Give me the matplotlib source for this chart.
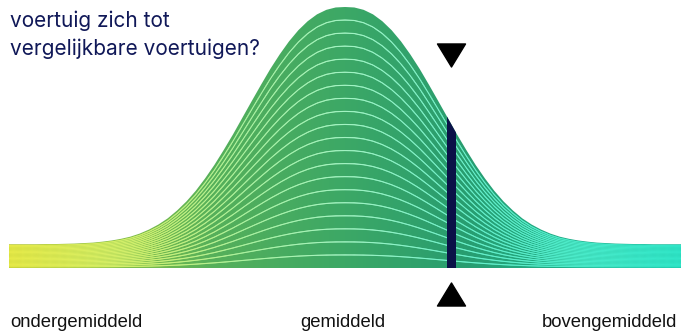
import numpy as np
import matplotlib
matplotlib.use("Agg")
import matplotlib.pyplot as plt
from matplotlib.colors import LinearSegmentedColormap
from matplotlib.collections import LineCollection
from matplotlib.patches import Polygon, Rectangle
from matplotlib.path import Path

# ---- data ----
x_vals = [round(-3.6 + 0.1 * i, 1) for i in range(73)]
curve_right = [1.100, 1.098, 1.088, 1.069, 1.040, 1.002, 0.955, 0.900, 0.839, 0.772,
               0.703, 0.633, 0.563, 0.497, 0.434, 0.377, 0.325, 0.280, 0.242, 0.209,
               0.183, 0.162, 0.145, 0.132, 0.123, 0.116, 0.111, 0.107, 0.105, 0.103,
               0.102, 0.101, 0.101, 0.100, 0.100, 0.100, 0.100]
curve_vals = curve_right[:0:-1] + curve_right
n_bands = 20
marker_value = 1.14
title_lines = ["voertuig zich tot", "vergelijkbare voertuigen?"]
axis_labels = ["ondergemiddeld", "gemiddeld", "bovengemiddeld"]

W, H = 690, 331
fig = plt.figure(figsize=(W / 100, H / 100), dpi=100)
fig.patch.set_facecolor("white")
ax = fig.add_axes([9 / W, 63 / H, 672 / W, 261 / H])
xmin, xmax = x_vals[0], x_vals[-1]
ax.set_xlim(xmin, xmax)
ax.set_ylim(0, 1.1)
ax.axis("off")

x = np.array(x_vals)
y = np.array(curve_vals)

fill_cmap = LinearSegmentedColormap.from_list(
    "fill", [(0.0, "#b2c430"), (0.15, "#8ac046"), (0.3, "#56b05a"),
             (0.5, "#3ca866"), (0.68, "#289d70"), (0.85, "#1fb08c"), (1.0, "#18bc9c")])
line_cmap = LinearSegmentedColormap.from_list(
    "lines", [(0.0, "#e6ea48"), (0.2, "#d0f070"), (0.35, "#acf2a0"),
              (0.5, "#a4f4c4"), (0.7, "#66f0cc"), (1.0, "#30e6c8")])

verts = [(xmin, 0)] + list(zip(x, y)) + [(xmax, 0)]
poly = Polygon(verts, closed=True, facecolor="none", edgecolor="none")
ax.add_patch(poly)

grad = np.linspace(0, 1, 512).reshape(1, -1)
im = ax.imshow(grad, cmap=fill_cmap, extent=(xmin, xmax, 0, 1.1),
               aspect="auto", interpolation="bilinear", zorder=1)
im.set_clip_path(poly)

xf = np.linspace(xmin, xmax, 600)
for k in range(1, n_bands):
    yk = np.interp(xf, x, y) * k / n_bands
    pts = np.column_stack([xf, yk]).reshape(-1, 1, 2)
    segs = np.concatenate([pts[:-1], pts[1:]], axis=1)
    mids = (xf[:-1] + xf[1:]) / 2
    lc = LineCollection(segs, colors=line_cmap((mids - xmin) / (xmax - xmin)),
                        linewidths=0.8, zorder=2, capstyle="round")
    lc.set_snap(False)
    ax.add_collection(lc)

hw = 0.048
bar = Rectangle((marker_value - hw, 0), 2 * hw, 1.2, facecolor="#0b1148",
                edgecolor="none", zorder=3)
ax.add_patch(bar)
bar.set_clip_path(poly)

tri_down = Path([(-14, 11.5), (14, 11.5), (0, -11.5), (-14, 11.5)],
                [Path.MOVETO, Path.LINETO, Path.LINETO, Path.CLOSEPOLY])
tri_up = Path([(-14, -11.5), (14, -11.5), (0, 11.5), (-14, -11.5)],
              [Path.MOVETO, Path.LINETO, Path.LINETO, Path.CLOSEPOLY])
ax.plot([marker_value], [0.8956], marker=tri_down, markersize=20.2, color="black",
        linestyle="none", clip_on=False, zorder=4)
ax.plot([marker_value], [-0.1096], marker=tri_up, markersize=20.2, color="black",
        linestyle="none", clip_on=False, zorder=4)

for i, line in enumerate(title_lines):
    fig.text(10 / W, 1 - (27 + 28 * i) / H, line, family="Inter", fontsize=15,
             color="#101858", va="baseline", ha="left")

fig.text(10 / W, 1 - 327 / H, axis_labels[0], family="Liberation Sans",
         fontsize=13.3, color="#111111", va="baseline", ha="left")
fig.text(343 / W, 1 - 327 / H, axis_labels[1], family="Liberation Sans",
         fontsize=13.3, color="#111111", va="baseline", ha="center")
fig.text(677 / W, 1 - 327 / H, axis_labels[2], family="Liberation Sans",
         fontsize=13.3, color="#111111", va="baseline", ha="right")

fig.savefig("out.png", dpi=100, facecolor="white")
